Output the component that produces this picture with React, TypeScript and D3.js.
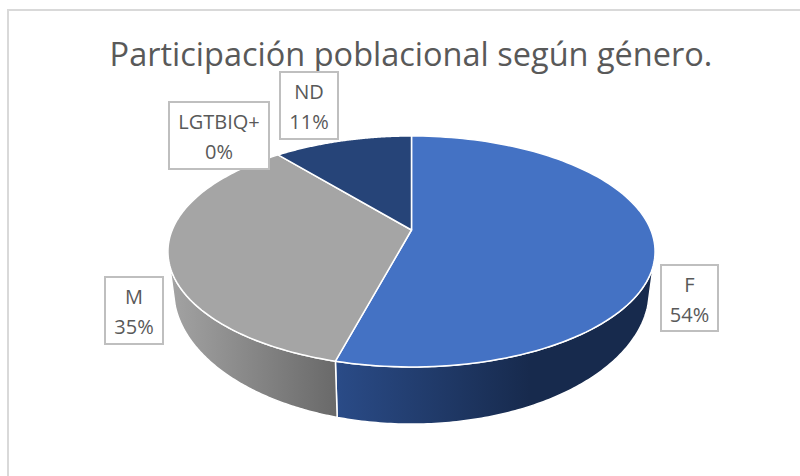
import React from 'react'
import * as d3 from 'd3'

const categories = ['F', 'M', 'LGTBIQ+', 'ND']
const shares = [54.2, 34.8, 0, 11]
const topColors = ['#4472c4', '#a5a5a5', '#7f9ccf', '#264478']
const wallStops = [
  ['#2a4b87', '#172a4d'],
  ['#a3a3a3', '#696969'],
]
const labelBoxes = [
  { x0: 661, x1: 718, y0: 265, y1: 331 },
  { x0: 105, x1: 163, y0: 277, y1: 344 },
  { x0: 169, x1: 269, y0: 102, y1: 169 },
  { x0: 280, x1: 338, y0: 72, y1: 139 },
]
const title = 'Participación poblacional según género.'

const WIDTH = 800
const HEIGHT = 476

// tilted disc: a circle seen in perspective, so the apex sits above the ellipse centre
const KEYSTONE = -0.186
const project = (cx: number, cy: number, rx: number, ry: number) => (a: number): [number, number] => {
  const u = Math.sin(a)
  const v = -Math.cos(a)
  const w = 1 + KEYSTONE * v
  return [cx + (rx * u) / w, cy + (ry * v) / w]
}

const topFace = project(411.5, 230, 239.3, 111.5)
const bottomFace = project(411.5, 265, 233.8, 129.5)

const arcs = d3.pie<number>().sort(null)(shares)
const line = d3.line()

const sample = (face: (a: number) => [number, number], a0: number, a1: number) =>
  d3.range(0, 121).map(i => face(a0 + ((a1 - a0) * i) / 120))

// pieces of the outer wall that face the viewer
const frontStart = Math.PI / 2 + 0.3
const frontEnd = (3 * Math.PI) / 2 - 0.3

export default function App() {
  return (
    <svg
      width={WIDTH}
      height={HEIGHT}
      style={{ position: 'absolute', left: 0, top: 0, background: '#fff' }}
      fontFamily="'Open Sans', sans-serif"
    >
      <defs>
        {wallStops.map((stops, i) => (
          <linearGradient
            key={i}
            id={`wall${i}`}
            gradientUnits="userSpaceOnUse"
            x1={i === 0 ? 337 : 170}
            x2={i === 0 ? 530 : 337}
            y1={0}
            y2={0}
          >
            <stop offset="0" stopColor={stops[0]} />
            <stop offset="1" stopColor={stops[1]} />
          </linearGradient>
        ))}
      </defs>

      {/* frame is cut off by the picture on the right and at the bottom */}
      <rect x={8} y={10} width={800} height={480} fill="#fff" stroke="#d9d9d9" strokeWidth={2} />

      {arcs.slice(0, 2).map((d, i) => {
        const a0 = Math.max(d.startAngle, frontStart)
        const a1 = Math.min(d.endAngle, frontEnd)
        const pts = [...sample(topFace, a0, a1), ...sample(bottomFace, a1, a0)]
        return (
          <path
            key={categories[i]}
            d={(line(pts) as string) + 'Z'}
            fill={`url(#wall${i})`}
            stroke="#fff"
            strokeWidth={1.5}
            strokeLinejoin="round"
          />
        )
      })}

      {arcs.map((d, i) =>
        d.endAngle - d.startAngle > 0 ? (
          <path
            key={categories[i]}
            d={(line([[411.5, 230], ...sample(topFace, d.startAngle, d.endAngle)]) as string) + 'Z'}
            fill={topColors[i]}
            stroke="#fff"
            strokeWidth={1.5}
            strokeLinejoin="round"
          />
        ) : null
      )}

      <text x={411} y={66} textAnchor="middle" fontSize={32.5} fill="#595959">
        {title}
      </text>

      {categories.map((c, i) => {
        const b = labelBoxes[i]
        const mid = (b.x0 + b.x1) / 2
        return (
          <g key={c}>
            <rect
              x={b.x0}
              y={b.y0}
              width={b.x1 - b.x0}
              height={b.y1 - b.y0}
              fill="#fff"
              stroke="#bfbfbf"
              strokeWidth={2}
            />
            <text x={mid} y={b.y0 + 27} textAnchor="middle" fontSize={20} fill="#595959">
              {c}
            </text>
            <text x={mid} y={b.y0 + 57} textAnchor="middle" fontSize={20} fill="#595959">
              {`${Math.round(shares[i])}%`}
            </text>
          </g>
        )
      })}
    </svg>
  )
}
